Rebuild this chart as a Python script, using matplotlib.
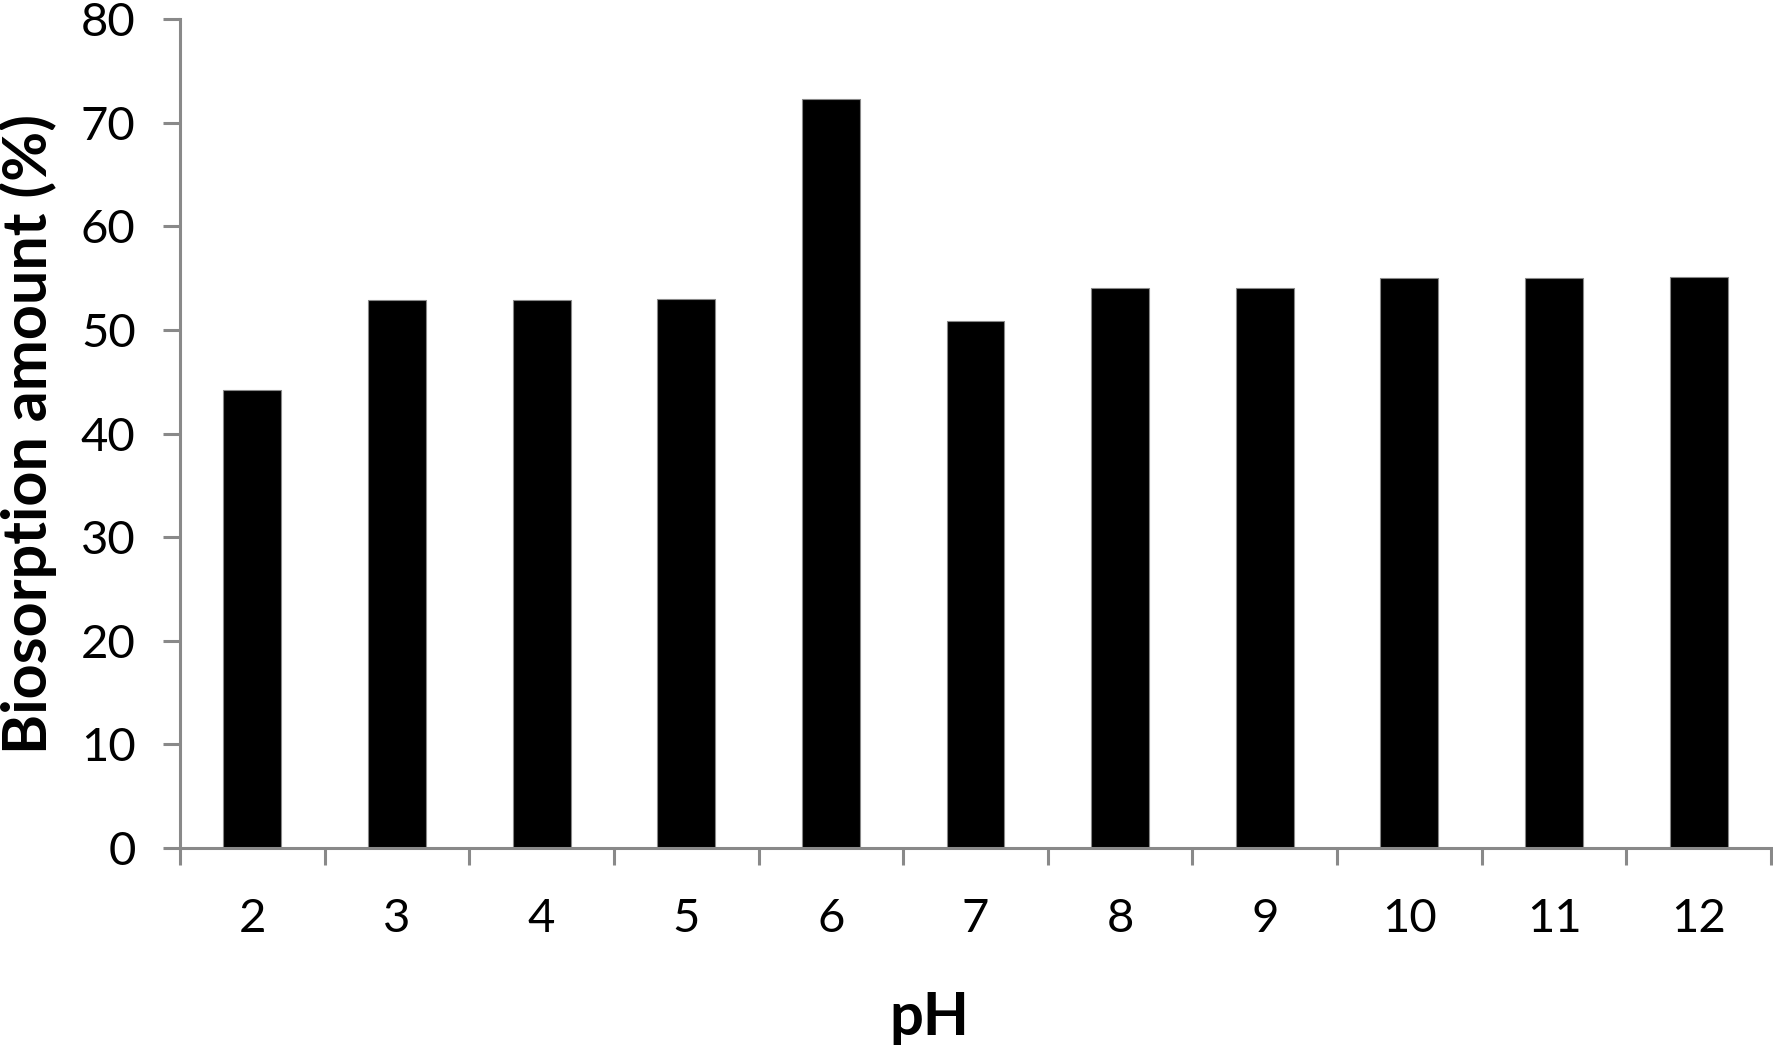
import matplotlib
matplotlib.use("Agg")
import matplotlib.pyplot as plt
import numpy as np

ph_labels = ["2", "3", "4", "5", "6", "7", "8", "9", "10", "11", "12"]
biosorption = [44.2, 52.9, 52.9, 53.0, 72.3, 50.9, 54.0, 54.0, 55.0, 55.0, 55.1]
y_ticks = [0, 10, 20, 30, 40, 50, 60, 70, 80]

plt.rcParams['font.family'] = ['Lato', 'DejaVu Sans']

fig = plt.figure(figsize=(17.74, 10.48), dpi=100)
ax = fig.add_axes([0.1015, 0.1908, 0.8968, 0.7911])

x = np.arange(len(ph_labels))
ax.bar(x, biosorption, width=0.40, color='black', edgecolor='#888888', linewidth=0.8, zorder=2)

ax.set_xlim(-0.5, len(ph_labels) - 0.5)
ax.set_ylim(0, 80)
ax.set_yticks(y_ticks)
ax.set_yticklabels([str(v) for v in y_ticks])

ax.set_xticks(x)
ax.set_xticklabels(ph_labels)
ax.set_xticks(np.arange(len(ph_labels) + 1) - 0.5, minor=True)

gray = '#898989'
for s in ['top', 'right']:
    ax.spines[s].set_visible(False)
for s in ['left', 'bottom']:
    ax.spines[s].set_color(gray)
    ax.spines[s].set_linewidth(2.2)

ax.tick_params(axis='x', which='major', length=0, pad=36, labelsize=34)
ax.tick_params(axis='x', which='minor', length=12, width=2.2, color=gray, direction='out')
ax.tick_params(axis='y', which='major', length=12, width=2.2, color=gray, direction='out', pad=20, labelsize=34)

ax.set_xlabel('pH', fontsize=43, fontweight='bold', va='center')
ax.xaxis.set_label_coords(0.471, -0.205)
ax.set_ylabel('Biosorption amount (%)', fontsize=44, fontweight='bold', va='center')
ax.yaxis.set_label_coords(-0.0955, 0.5)

fig.savefig('out.png', dpi=100)
